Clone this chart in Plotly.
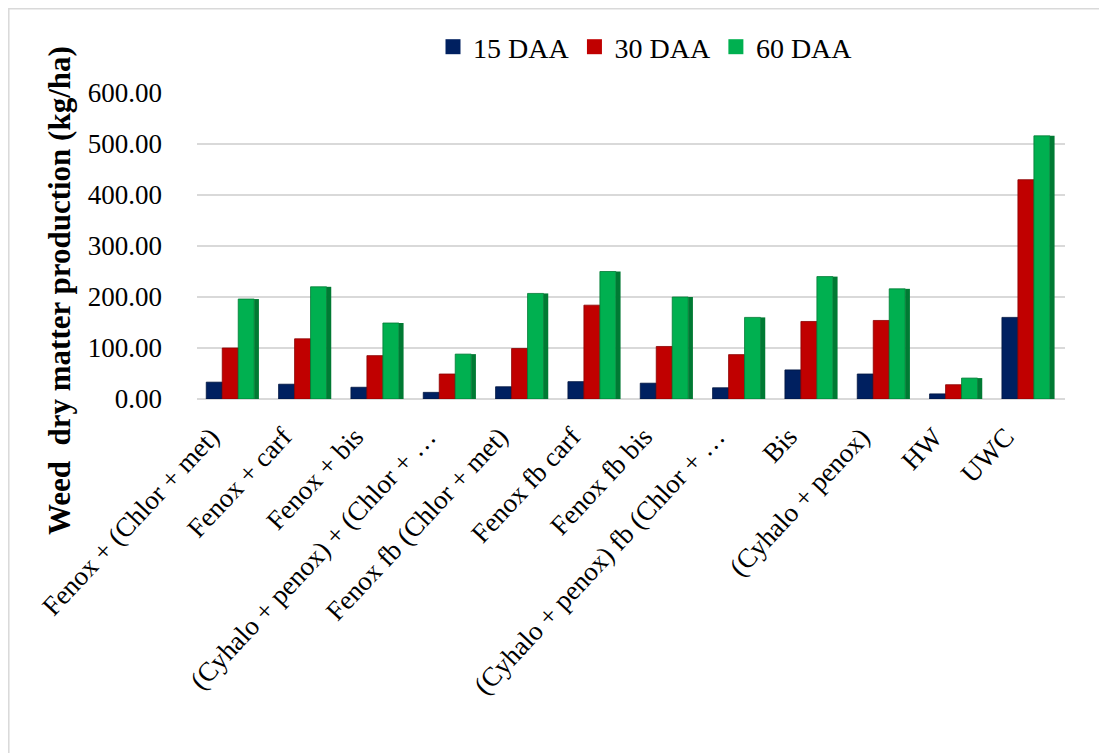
import plotly.graph_objects as go

categories = [
    "Fenox + (Chlor + met)",
    "Fenox + carf",
    "Fenox + bis",
    "(Cyhalo + penox) + (Chlor + …",
    "Fenox fb (Chlor + met)",
    "Fenox fb carf",
    "Fenox fb bis",
    "(Cyhalo + penox) fb (Chlor + …",
    "Bis",
    "(Cyhalo + penox)",
    "HW",
    "UWC",
]
series_names = ["15 DAA", "30 DAA", "60 DAA"]
daa15 = [33, 29, 23, 13, 24, 34, 31, 22, 57, 49, 10, 160]
daa30 = [100, 118, 85, 49, 99, 184, 103, 87, 152, 154, 28, 430]
daa60 = [196, 220, 149, 88, 207, 250, 200, 160, 240, 216, 41, 516]
y_ticks = [0, 100, 200, 300, 400, 500, 600]
y_tick_labels = ["0.00", "100.00", "200.00", "300.00", "400.00", "500.00", "600.00"]

colors = ["#002060", "#C00000", "#00B050"]
side_colors = ["#001540", "#8A0000", "#007A33"]

# page has an 8px body margin; layout compensates for it
W, H = 1099, 745
ml, mr, mt, mb = 189, 42, 85, 354
pw, ph = W - ml - mr, H - mt - mb

bar_w = 0.221
offsets = [-0.372, -0.151, 0.070]

fig = go.Figure()
series = [daa15, daa30, daa60]
for name, vals, c, sc, off in zip(series_names, series, colors, side_colors, offsets):
    fig.add_trace(go.Bar(
        x=categories, y=vals, name=name, showlegend=False,
        width=bar_w, offset=off,
        marker=dict(color=c, line=dict(color=sc, width=0.8)),
    ))
# darker side face of the rightmost (60 DAA) bars for the 3-D look
fig.add_trace(go.Bar(
    x=categories, y=daa60, showlegend=False, hoverinfo="skip",
    width=0.065, offset=offsets[2] + bar_w,
    marker=dict(color=side_colors[2], line=dict(width=0)),
))
# legend entries with square markers
for name, c in zip(series_names, colors):
    fig.add_trace(go.Scatter(
        x=[None], y=[None], mode="markers", name=name,
        marker=dict(symbol="square", size=15, color=c),
    ))

font_family = "Liberation Serif, Times New Roman, serif"
fig.update_layout(
    width=W, height=H,
    margin=dict(l=ml, r=mr, t=mt, b=mb, autoexpand=False),
    paper_bgcolor="white", plot_bgcolor="white",
    barmode="overlay",
    font=dict(family=font_family, color="black"),
    legend=dict(
        orientation="h", x=(425 - ml) / pw, xanchor="left",
        y=1 + (mt - 39) / ph, yanchor="middle",
        font=dict(size=28, family=font_family),
        itemwidth=30, traceorder="normal",
    ),
)
fig.update_xaxes(
    showticklabels=False, showline=False, showgrid=False, ticks="",
    range=[-0.5, len(categories) - 0.5],
)
fig.update_yaxes(
    range=[0, 600], tickvals=y_ticks, ticktext=y_tick_labels,
    tickfont=dict(size=27, family=font_family),
    showgrid=True, gridcolor="#D9D9D9", gridwidth=2,
    zeroline=True, zerolinecolor="#D9D9D9", zerolinewidth=2,
    showline=False, ticks="", ticklabelstandoff=34, automargin=False,
)
# rotated category labels
for i, cat in enumerate(categories):
    fig.add_annotation(
        text=cat, x=i - 0.08, xref="x",
        y=1 - (411 - mt) / ph, yref="paper",
        xanchor="right", yanchor="top", textangle=-47, showarrow=False,
        font=dict(size=27, family=font_family, color="black"),
    )
fig.add_annotation(
    text="<b>Weed  dry matter production (kg/ha)</b>",
    xref="paper", yref="paper",
    x=(51 - ml) / pw, y=1 - (283 - mt) / ph,
    xanchor="center", yanchor="middle", textangle=-90, showarrow=False,
    font=dict(size=31, family=font_family, color="black"),
)
# outer chart border (left and top edges visible)
fig.add_shape(
    type="rect", xref="paper", yref="paper",
    x0=(0.8 - ml) / pw, x1=(W + 10 - ml) / pw,
    y0=1 - (H + 10 - mt) / ph, y1=1 - (0.8 - mt) / ph,
    line=dict(color="#D9D9D9", width=1.5), layer="below",
)
fig.write_html("out.html")
